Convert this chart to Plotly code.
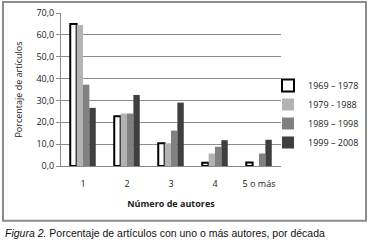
import plotly.graph_objects as go

categories = ["1", "2", "3", "4", "5 o más"]
series_names = ["1969 – 1978", "1979 - 1988", "1989 – 1998", "1999 – 2008"]
v1969 = [65.0, 22.8, 10.4, 1.5, 1.6]
v1979 = [64.5, 24.0, 10.4, 5.7, 0.0]
v1989 = [37.2, 24.0, 16.2, 8.8, 5.7]
v1999 = [26.6, 32.5, 29.0, 11.8, 12.0]
values = [v1969, v1979, v1989, v1999]
colors = ["#ffffff", "#b3b3b3", "#808080", "#3f3f3f"]
line_colors = ["#000000", "#b3b3b3", "#808080", "#3f3f3f"]
line_widths = [2, 0, 0, 0]

FONT = "Open Sans"

fig = go.Figure()
for name, vals, c, lc, lw in zip(series_names, values, colors, line_colors, line_widths):
    fig.add_trace(go.Bar(x=categories, y=vals, name=name,
                         marker=dict(color=c, line=dict(color=lc, width=lw))))

W, H = 369, 249
L, R, T, B = 61, 88, 13, 82.5
pw = W - L - R
ph = H - T - B

def px_x(px):
    return (px - L) / pw

def px_y(py):
    return (H - B - py) / ph

fig.update_layout(
    width=W, height=H,
    margin=dict(l=L, r=R, t=T, b=B, pad=0, autoexpand=False),
    paper_bgcolor="white", plot_bgcolor="white",
    barmode="group", bargap=0.42, bargroupgap=0,
    separators=",.",
    font=dict(family=FONT, size=9, color="#222"),
    showlegend=True,
    legend=dict(xref="container", yref="container",
                x=268 / W, y=1 - 71 / H, xanchor="left", yanchor="top",
                font=dict(size=9, family=FONT, color="#222"),
                bgcolor="rgba(0,0,0,0)", tracegroupgap=0, itemwidth=30),
    xaxis=dict(showgrid=False, showline=True, linecolor="#888", linewidth=1,
               ticks="outside", ticklen=9, tickcolor="rgba(0,0,0,0)", tickfont=dict(size=9),
               title=dict(text="<b>Número de autores</b>", font=dict(size=9), standoff=11)),
    yaxis=dict(range=[0, 70], dtick=10, tickformat=".1f", showgrid=True,
               gridcolor="#8c8c8c", gridwidth=1.2, showline=True, linecolor="#8c8c8c",
               linewidth=1, ticks="outside", ticklen=4, tickcolor="#8c8c8c",
               tickfont=dict(size=9), zeroline=False,
               title=dict(text="Porcentaje de artículos", font=dict(size=9), standoff=12)),
)

# outer frame
fig.add_shape(type="rect", xref="paper", yref="paper",
              x0=px_x(3), x1=px_x(366), y0=px_y(221.5), y1=px_y(2),
              line=dict(color="#8c8c8c", width=2), fillcolor="rgba(0,0,0,0)")

# caption
fig.add_annotation(xref="paper", yref="paper", x=px_x(3), y=px_y(234),
                   xanchor="left", yanchor="middle", showarrow=False,
                   text="<i>Figura 2.</i> Porcentaje de artículos con uno o más autores, por década",
                   font=dict(family="Liberation Sans Narrow, Liberation Sans, Arial", size=10.5, color="#111"))

fig.write_html("out.html", config={"displayModeBar": False},
               post_script="document.body.style.margin='0';")
